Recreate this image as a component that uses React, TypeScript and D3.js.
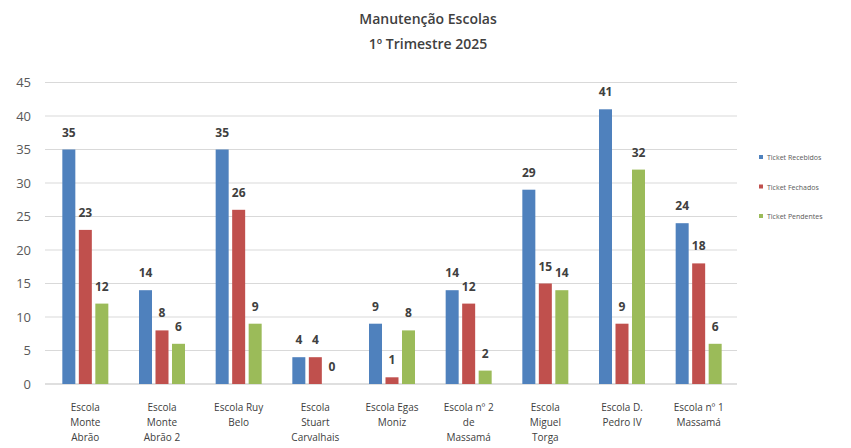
import React from "react";
import * as d3 from "d3";

const categories: string[][] = [
  ["Escola", "Monte", "Abrão"],
  ["Escola", "Monte", "Abrão 2"],
  ["Escola Ruy", "Belo"],
  ["Escola", "Stuart", "Carvalhais"],
  ["Escola Egas", "Moniz"],
  ["Escola nº 2", "de", "Massamá"],
  ["Escola", "Miguel", "Torga"],
  ["Escola D.", "Pedro IV"],
  ["Escola nº 1", "Massamá"],
];
const recebidos = [35, 14, 35, 4, 9, 14, 29, 41, 24];
const fechados = [23, 8, 26, 4, 1, 12, 15, 9, 18];
const pendentes = [12, 6, 9, 0, 8, 2, 14, 32, 6];
const seriesNames = ["Ticket Recebidos", "Ticket Fechados", "Ticket Pendentes"];
const seriesColors = ["#4F81BD", "#C0504D", "#9BBB59"];
const yTicks = [0, 5, 10, 15, 20, 25, 30, 35, 40, 45];
const titleLines = ["Manutenção Escolas", "1º Trimestre 2025"];

export default function App() {
  const W = 851, H = 448;
  const left = 47, right = 737, top = 82.5, bottom = 384;
  const series = [recebidos, fechados, pendentes];
  const x = d3.scaleBand<number>().domain(categories.map((_, i) => i)).range([left, right]);
  const y = d3.scaleLinear().domain([0, 45]).range([bottom, top]);
  const barW = 13;
  const step = 16.5;
  const font = "'Open Sans', 'Liberation Sans', sans-serif";

  return (
    <svg width={W} height={H} style={{ position: "absolute", left: 0, top: 0, background: "#fff" }}>
      <rect width={W} height={H} fill="#fff" />
      {titleLines.map((t, i) => (
        <text key={t} x={428} y={24 + i * 25} textAnchor="middle" fontFamily={font} fontSize={14} fontWeight={600} fill="#404040">
          {t}
        </text>
      ))}
      {yTicks.map((t) => (
        <g key={t}>
          <line x1={left - 2} x2={right} y1={y(t)} y2={y(t)} stroke={t === 0 ? "#BFBFBF" : "#D9D9D9"} strokeWidth={1} />
          <text x={31} y={y(t) + 4.5} textAnchor="end" fontFamily={font} fontSize={13} fill="#595959">
            {t}
          </text>
        </g>
      ))}
      {categories.map((_, ci) => {
        const cx = (x(ci) as number) + x.bandwidth() / 2;
        return (
          <g key={ci}>
            {series.map((s, si) => {
              const bx = cx + (si - 1) * step - barW / 2;
              const v = s[ci];
              return (
                <g key={si}>
                  <rect x={bx} y={y(v)} width={barW} height={bottom - y(v)} fill={seriesColors[si]} />
                  <text x={bx + barW / 2} y={y(v) - 13} textAnchor="middle" fontFamily={font} fontSize={12} fontWeight={700} fill="#404040">
                    {v}
                  </text>
                </g>
              );
            })}
            {categories[ci].map((line, li) => (
              <text key={li} x={cx} y={411 + li * 15} textAnchor="middle" fontFamily={font} fontSize={10} fill="#404040">
                {line}
              </text>
            ))}
          </g>
        );
      })}
      {seriesNames.map((n, i) => (
        <g key={n}>
          <rect x={759} y={155 + i * 29.5} width={4} height={4} fill={seriesColors[i]} />
          <text x={767} y={160 + i * 29.5} fontFamily={font} fontSize={7} fill="#595959">
            {n}
          </text>
        </g>
      ))}
    </svg>
  );
}
